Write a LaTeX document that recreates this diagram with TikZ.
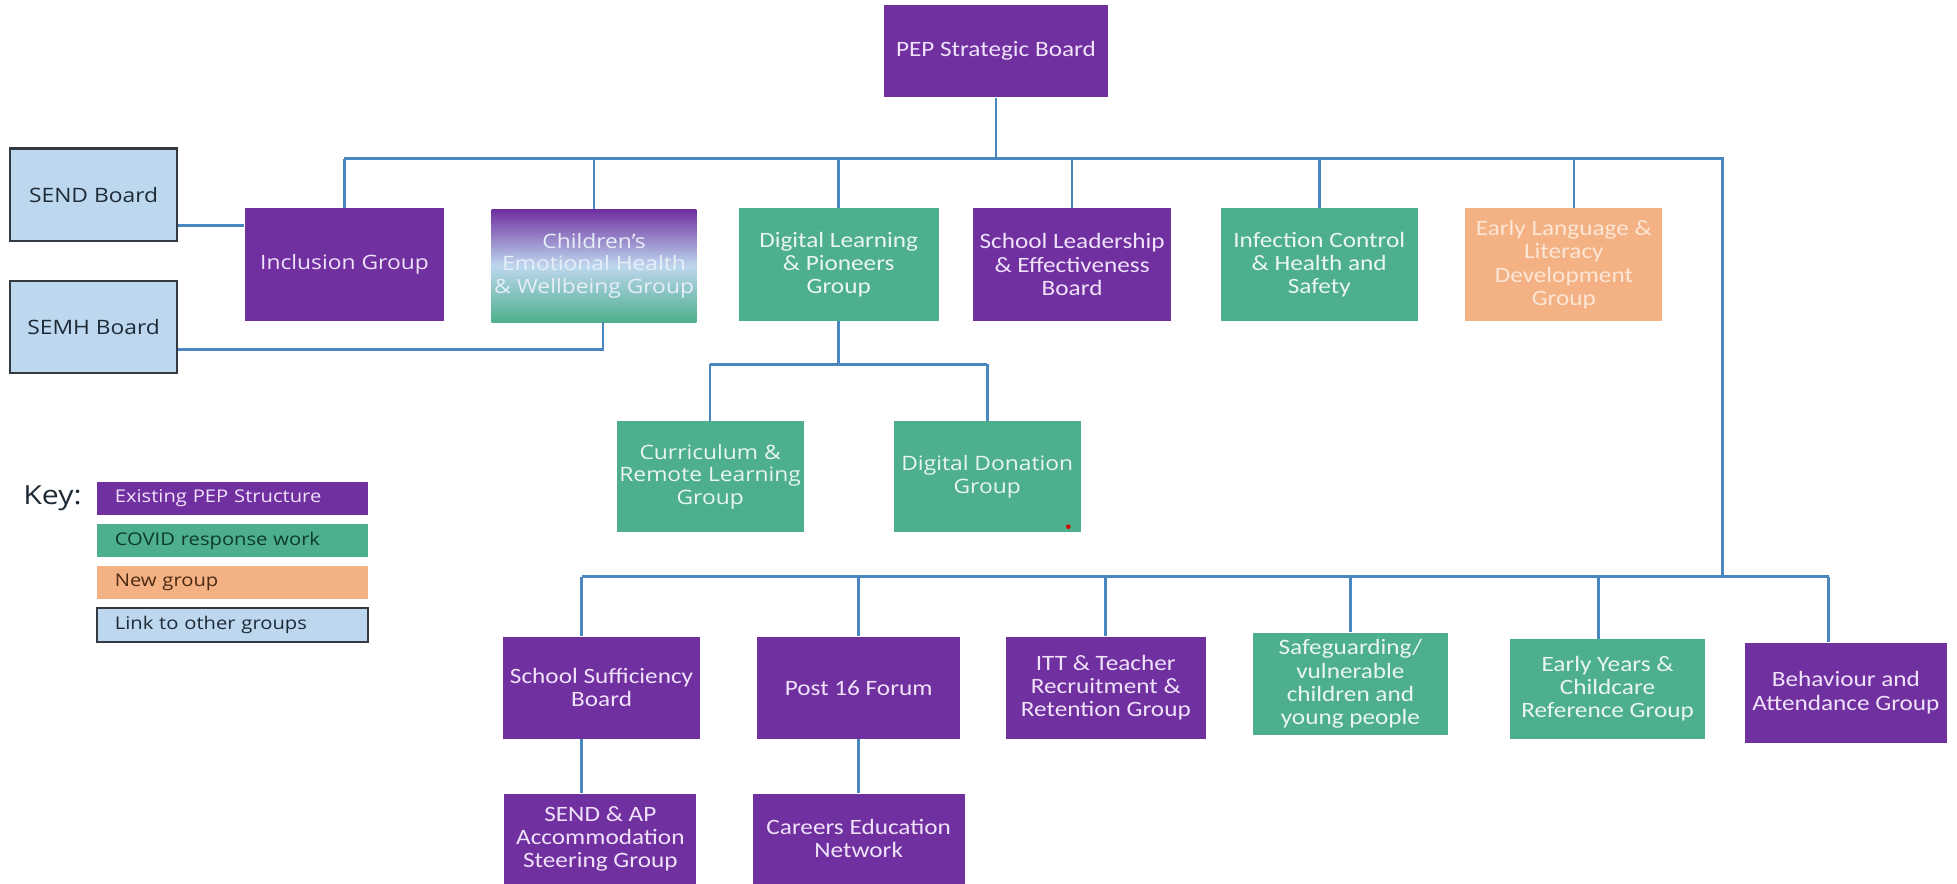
\documentclass[tikz,border=0pt]{standalone}
\usepackage{fontspec}
\setmainfont[FakeStretch=1.15]{Carlito}
\newfontfamily\widefont[FakeStretch=1.15]{Open Sans}
\usepackage{tikz}
\usetikzlibrary{positioning}

\definecolor{pepPurple}{HTML}{7030A0}
\definecolor{pepGreen}{HTML}{4DAF8C}
\definecolor{pepOrange}{HTML}{F4B183}
\definecolor{pepBlue}{HTML}{BDD7EE}
\definecolor{pepEdge}{HTML}{333A42}
\definecolor{pepLine}{HTML}{4A86C0}
\definecolor{pepPurpleText}{HTML}{F0E2FA}
\definecolor{pepGreenText}{HTML}{EAF6F0}
\definecolor{pepOrangeText}{HTML}{FCE6D6}
\definecolor{pepShadeText}{HTML}{E6EEF8}
\definecolor{pepBlueText}{HTML}{1E2A36}
\definecolor{pepKeyGreen}{HTML}{0E3B2A}
\definecolor{pepKeyOrange}{HTML}{4A2A12}

\begin{document}
\begin{tikzpicture}[x=0.025cm,y=-0.025cm]
    % colours follow the key in the bottom left corner
    \tikzstyle{existing}=[rectangle,fill=pepPurple,text=pepPurpleText,align=center,inner sep=1pt,
    font=\fontsize{12.5}{13.2}\selectfont]
    \tikzstyle{covid}=[existing,fill=pepGreen,text=pepGreenText]
    \tikzstyle{newgroup}=[existing,fill=pepOrange,text=pepOrangeText]
    \tikzstyle{othergroup}=[existing,line width=1.2pt,draw=pepEdge,fill=pepBlue,text=pepBlueText]
    \tikzstyle{wide}=[font=\widefont\fontsize{11.3}{13}\selectfont]
    \tikzstyle{toprow}=[minimum width=4cm,minimum height=2.25cm]
    \tikzstyle{lowrow}=[minimum width=3.95cm,minimum height=2.05cm]
    \tikzstyle{keybox}=[rectangle,minimum height=0.675cm,text width=4.725cm,inner xsep=0.35cm,
    inner ysep=0pt,align=left,font=\widefont\fontsize{10}{10}\selectfont]
    \tikzstyle{link}=[draw=pepLine,line width=1.5pt]

    \path [use as bounding box,fill=white] (0,0) rectangle (1568,708);

    \node [existing,minimum width=4.5cm,minimum height=1.85cm] (pep) at (798,41) {PEP Strategic Board};

    \node [othergroup,wide,minimum width=3.35cm,minimum height=1.85cm] (send) at (75,156) {SEND Board};
    \node [othergroup,wide,minimum width=3.35cm,minimum height=1.85cm] (semh) at (75,262) {SEMH Board};

    \node [existing,wide,toprow] (incl) at (276,212) {Inclusion Group};
    \node [existing,wide,toprow,minimum width=4.1cm,top color=pepPurple,bottom color=pepGreen,
    middle color=pepBlue,text=pepShadeText] (cehw) at (476,213) {Children’s\\Emotional Health\\\& Wellbeing Group};
    \node [covid,toprow] (dlp) at (672,212) {Digital Learning\\\& Pioneers\\Group};
    \node [existing,toprow,minimum width=3.95cm] (sle) at (859,212) {School Leadership\\\& Effectiveness\\Board};
    \node [covid,toprow,minimum width=3.95cm] (ichs) at (1057,212) {Infection Control\\\& Health and\\Safety};
    \node [newgroup,toprow,minimum width=3.95cm] (ell) at (1253,212) {Early Language \&\\Literacy\\Development\\Group};

    \node [covid,wide,minimum width=3.75cm,minimum height=2.225cm] (curr) at (569,382) {Curriculum \&\\Remote Learning\\Group};
    \node [covid,wide,minimum width=3.75cm,minimum height=2.225cm] (ddon) at (791,382) {Digital Donation\\Group};
    \fill [red!85!black] (856,422) circle (1.3pt);

    \node [existing,lowrow] (ssb) at (482,551) {School Sufficiency\\Board};
    \node [existing,lowrow,minimum width=4.075cm] (p16) at (688,551) {Post 16 Forum};
    \node [existing,lowrow,minimum width=4cm] (itt) at (886,551) {ITT \& Teacher\\Recruitment \&\\Retention Group};
    \node [covid,lowrow,minimum width=3.9cm] (safe) at (1082,548) {Safeguarding/\\vulnerable\\children and\\young people};
    \node [covid,lowrow,minimum width=3.9cm,minimum height=2cm] (eyc) at (1288,552) {Early Years \&\\Childcare\\Reference Group};
    \node [existing,lowrow,minimum width=4.05cm,minimum height=2cm] (baag) at (1479,555) {Behaviour and\\Attendance Group};

    \node [existing,minimum width=3.85cm,minimum height=1.8cm] (sendap) at (481,672) {SEND \& AP\\Accommodation\\Steering Group};
    \node [existing,minimum width=4.25cm,minimum height=1.8cm] (careers) at (688,672) {Careers Education\\Network};

    \node [text=pepBlueText,font=\widefont\fontsize{15}{15}\selectfont] (keylabel) at (42,399) {Key:};
    \node [keybox,fill=pepPurple,text=pepPurpleText] (keyexist) at (186.5,399.5) {Existing PEP Structure};
    \node [keybox,fill=pepGreen,text=pepKeyGreen,below=0.15cm of keyexist] (keycovid) {COVID response work};
    \node [keybox,fill=pepOrange,text=pepKeyOrange,below=0.15cm of keycovid] (keynew) {New group};
    \node [keybox,draw=pepEdge,line width=1.2pt,fill=pepBlue,text=pepBlueText,below=0.15cm of keynew] (keylink) {Link to other groups};

    \coordinate (topbus) at (798,127);
    \coordinate (lowbus) at (1380,462);
    \coordinate (dlpbus) at (672,292);

    \draw [link] (pep) -- (topbus);
    \draw [link] (topbus -| incl) -- (topbus -| lowbus) -- (lowbus);
    \foreach \n in {incl,cehw,dlp,sle,ichs}
        \draw [link] (topbus -| \n) -- (\n);
    \draw [link] (topbus -| ell.80) -- (ell.80);

    \draw [link] (dlp) -- (dlpbus);
    \draw [link] (dlpbus -| curr) -- (dlpbus -| ddon);
    \foreach \n in {curr,ddon}
        \draw [link] (dlpbus -| \n) -- (\n);

    \draw [link] (lowbus -| ssb.111) -- (lowbus -| baag.109);
    \foreach \n/\a in {ssb/111,p16/90,itt/90,safe/90,eyc/100,baag/109}
        \draw [link] (lowbus -| \n.\a) -- (\n.\a);
    \draw [link] (ssb.-111) -- (sendap.north -| ssb.-111);
    \draw [link] (p16) -- (careers);

    \draw [link] (send.-20) -- (send.-20 -| incl.west);
    \draw [link] (semh.-15) -| (cehw.-81);
\end{tikzpicture}
\end{document}
